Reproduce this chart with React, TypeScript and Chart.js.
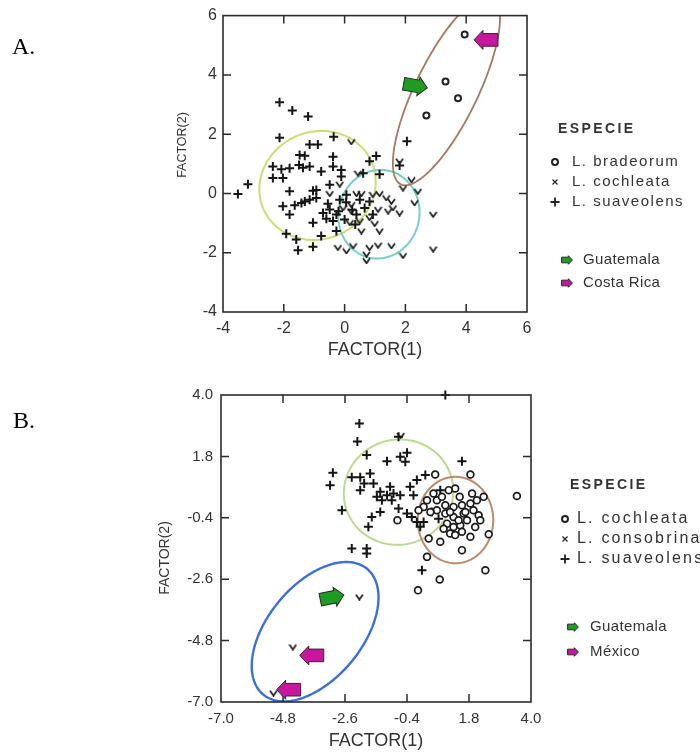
import React, { useEffect, useRef } from "react";
import { Chart, registerables } from "chart.js";
Chart.register(...registerables);

type Pt = [number, number];

// ---------- axis ticks ----------
const A_TICKS = [-4, -2, 0, 2, 4, 6];
const B_TICKS = [-7.0, -4.8, -2.6, -0.4, 1.8, 4.0];

// ---------- legend texts ----------
const A_SPECIES = ["L. bradeorum", "L. cochleata", "L. suaveolens"];
const A_ORIGINS = ["Guatemala", "Costa Rica"];
const B_SPECIES = ["L. cochleata", "L. consobrina", "L. suaveolens"];
const B_ORIGINS = ["Guatemala", "México"];
const LEGEND_TITLE = "ESPECIE";
const X_TITLE = "FACTOR(1)";
const Y_TITLE = "FACTOR(2)";

// ---------- panel A data ----------
const A_BRADEORUM: Pt[] = [[3.95, 5.36], [3.32, 3.78], [3.73, 3.21], [2.69, 2.63]];
const A_COCHLEATA: Pt[] = [
  [0.22, 1.74], [1.81, 1.09], [0.44, 0.68], [-0.16, 0.31], [0.39, -0.01], [0.55, -0.01], [0.93, -0.04],
  [1.15, -0.01], [1.92, 0.18], [2.2, 0.46], [2.41, 0.07], [2.3, -0.32], [1.37, -0.15], [1.54, -0.27],
  [1.59, -0.49], [1.81, -0.66], [1.43, -0.6], [1.1, -0.54], [0.82, -0.82], [0.99, -1.02], [1.15, -1.27],
  [0.5, -0.93], [0.17, -0.99], [0.55, -1.27], [2.91, -0.71], [2.91, -1.88], [1.92, -2.1], [1.54, -1.77],
  [1.1, -1.75], [0.82, -1.83], [0.72, -2.05], [0.72, -2.27], [0.28, -1.77], [0.06, -1.94], [-0.22, -1.83],
  [-0.49, -0.01], [0.22, -0.38], [0.22, -0.6], [-0.05, -0.49],
];
const A_SUAVEOLENS: Pt[] = [
  [-2.14, 3.08], [-1.72, 2.8], [-1.2, 2.6], [-2.14, 1.88], [-0.36, 1.91], [-1.15, 1.65], [-0.88, 1.65],
  [-1.48, 1.3], [-1.31, 1.27], [-0.38, 1.24], [1.04, 1.26], [2.05, 1.76], [1.81, 0.94], [-1.5, 0.96],
  [-1.37, 0.87], [-1.15, 0.91], [-2.36, 0.91], [-2.08, 0.82], [-1.81, 0.85], [-0.77, 0.74], [-0.38, 0.91],
  [-0.11, 0.79], [0.61, 0.68], [0.82, 1.09], [1.15, 0.65], [-2.36, 0.52], [-2.03, 0.52], [-0.11, 0.57],
  [-0.49, 0.29], [-3.51, -0.02], [-3.18, 0.31], [-1.81, 0.07], [-1.04, 0.09], [-0.93, 0.12], [-1.31, -0.27],
  [-1.15, -0.21], [-0.93, -0.15], [-2.03, -0.43], [-1.64, -0.4], [-1.81, -0.71], [-1.42, -0.32], [-0.16, -0.21],
  [0.06, -0.04], [-0.71, -0.66], [-0.49, -0.54], [-0.27, -0.71], [-0.38, -0.93], [-1.04, -0.99], [0.0, -0.88],
  [0.39, -0.71], [0.66, -0.49], [0.93, -0.71], [-1.92, -1.36], [-0.77, -1.44], [-0.27, -1.27], [-1.59, -1.55],
  [-1.04, -1.8], [-1.53, -1.92], [0.82, -0.27], [0.5, -0.21], [-0.55, -0.35], [-0.2, -0.6], [0.25, -0.55],
  [-0.6, -0.85], [0.35, -1.05], [0.05, -0.3],
];
// confidence ellipses: centre, semi-axes, rotation (deg)
const A_ELLIPSES = [
  { cx: -0.89, cy: 0.27, a: 1.95, b: 1.8, angle: 30 },
  { cx: 1.13, cy: -0.7, a: 1.5, b: 1.33, angle: 80 },
  { cx: 3.35, cy: 3.47, a: 3.5, b: 1.03, angle: 64.7 },
];
const A_GUATEMALA_ARROWS: Pt[] = [[2.33, 3.63]];
const A_COSTA_RICA_ARROWS: Pt[] = [[4.65, 5.18]];

// ---------- panel B data ----------
const B_COCHLEATA: Pt[] = [
  [0.6, 1.15], [1.85, 1.15], [1.31, 0.65], [1.47, 0.35], [1.91, 0.47], [2.32, 0.35], [3.5, 0.38], [0.31, 0.23],
  [0.66, 0.23], [0.96, 0.05], [1.25, -0.01], [1.55, 0.05], [1.85, 0.11], [1.96, -0.13], [2.14, -0.31],
  [1.61, -0.25], [1.25, -0.37], [0.96, -0.25], [0.66, -0.13], [0.43, -0.19], [0.19, -0.01], [0.01, -0.13],
  [1.02, -0.61], [1.25, -0.73], [1.49, -0.67], [1.73, -0.49], [2.02, -0.73], [2.2, -0.49], [1.13, -0.96],
  [1.31, -1.02], [1.55, -0.9], [1.85, -1.08], [2.5, -0.99], [0.78, -1.26], [0.37, -1.14], [1.55, -1.56],
  [-0.74, -0.49], [0.31, -1.8], [2.38, -2.28], [0.76, -2.61], [-0.01, -3.0], [0.84, 0.35], [0.54, 0.47],
  [1.67, -0.19], [1.43, -0.49], [1.13, -0.19], [0.9, -0.79], [2.08, 0.23], [1.08, 0.59],
];
const B_CONSOBRINA: Pt[] = [[-2.09, -3.24], [-4.45, -5.03], [-5.14, -6.68], [-0.62, 2.55]];
const B_SUAVEOLENS: Pt[] = [
  [0.96, 4.0], [-2.09, 2.98], [-2.16, 2.33], [-0.7, 2.5], [-1.83, 1.85], [-1.11, 1.63], [-0.64, 1.79],
  [-0.4, 1.93], [-0.46, 1.61], [1.55, 1.63], [-3.03, 1.21], [-3.13, 0.77], [-2.36, 1.05], [-2.06, 1.05],
  [-1.71, 1.19], [-1.92, 0.83], [-1.59, 0.83], [-1.35, 0.53], [-1.47, 0.35], [-1.11, 0.41], [-0.88, 0.47],
  [-0.64, 0.41], [-0.29, 0.71], [-0.05, 0.95], [0.25, 1.13], [-0.17, 0.41], [-0.7, -0.07], [-1.35, -0.19],
  [-1.65, -0.37], [-1.77, -0.72], [-2.71, -0.13], [-0.4, -0.25], [-0.23, -0.37], [0.19, -0.55], [-2.36, -1.5],
  [-1.83, -1.5], [-1.83, -1.68], [0.13, -2.28], [0.78, 0.59], [-1.0, 0.71], [-0.94, 0.23], [-1.29, 0.23],
  [-2.06, 0.59], [-0.05, -0.55], [0.07, -0.72], [0.48, -0.19], [0.72, -0.43],
];
const B_ELLIPSES = [
  { cx: -0.7, cy: 0.52, a: 1.95, b: 1.88, angle: 20 },
  { cx: 1.32, cy: -0.48, a: 1.55, b: 1.34, angle: 90 },
  { cx: -3.66, cy: -4.48, a: 2.91, b: 1.68, angle: 51 },
];
const B_GUATEMALA_ARROWS: Pt[] = [[-3.06, -3.25]];
const B_MEXICO_ARROWS: Pt[] = [[-3.78, -5.33], [-4.6, -6.56]];

// ---------- styles ----------
const SANS = "'Liberation Sans', Arial, sans-serif";
const SERIF = "'Liberation Serif', 'Times New Roman', serif";
const TEXT = "#333";
const GREEN = "#1f9a22";
const MAGENTA = "#c8169e";

function toXY(p: Pt[]) {
  return p.map(([x, y]) => ({ x, y }));
}

function makeV(): HTMLCanvasElement {
  const c = document.createElement("canvas");
  c.width = 9;
  c.height = 7;
  const g = c.getContext("2d")!;
  g.strokeStyle = "#1a1a1a";
  g.lineWidth = 1.7;
  g.beginPath();
  g.moveTo(1, 1);
  g.lineTo(4.5, 6);
  g.lineTo(8, 1);
  g.stroke();
  return c;
}

function drawArrow(ctx: CanvasRenderingContext2D, cx: number, cy: number, dir: number, rot: number, fill: string, s = 1) {
  ctx.save();
  ctx.translate(cx, cy);
  ctx.rotate(rot);
  if (dir < 0) ctx.scale(-1, 1);
  ctx.scale(s, s);
  ctx.beginPath();
  ctx.moveTo(-12, -6.3);
  ctx.lineTo(3, -6.3);
  ctx.lineTo(3, -9.5);
  ctx.lineTo(12, 0);
  ctx.lineTo(3, 9.5);
  ctx.lineTo(3, 6.3);
  ctx.lineTo(-12, 6.3);
  ctx.closePath();
  ctx.fillStyle = fill;
  ctx.fill();
  ctx.lineWidth = 1 / s;
  ctx.strokeStyle = "#2a2a2a";
  ctx.stroke();
  ctx.restore();
}

function drawSymbol(ctx: CanvasRenderingContext2D, kind: string, x: number, y: number) {
  ctx.save();
  ctx.strokeStyle = "#222";
  ctx.beginPath();
  if (kind === "circle") {
    ctx.lineWidth = 2;
    ctx.arc(x, y, 3, 0, Math.PI * 2);
  } else if (kind === "x") {
    ctx.lineWidth = 1.2;
    ctx.moveTo(x - 2.5, y - 2.5);
    ctx.lineTo(x + 2.5, y + 2.5);
    ctx.moveTo(x + 2.5, y - 2.5);
    ctx.lineTo(x - 2.5, y + 2.5);
  } else {
    ctx.lineWidth = 1.8;
    ctx.moveTo(x - 4.5, y);
    ctx.lineTo(x + 4.5, y);
    ctx.moveTo(x, y - 4.5);
    ctx.lineTo(x, y + 4.5);
  }
  ctx.stroke();
  ctx.restore();
}

interface Overlay {
  ticks: number[];
  ellipses: { cx: number; cy: number; a: number; b: number; angle: number }[];
  ellipseColors: string[];
  ellipseWidths: number[];
  arrows: { pts: Pt[]; dir: number; rot: number; color: string }[];
  panel: string;
  panelPos: [number, number];
  yTitle: { x: number; y: number; size: number };
  legend: {
    titlePos: [number, number];
    species: string[];
    symbols: string[];
    symX: number;
    textX: number;
    rowsY: number[];
    font: number;
    spacing: number;
    origins: string[];
    originColors: string[];
    iconX: number;
    originTextX: number;
    originRowsY: number[];
  };
}

function makeOverlay(o: Overlay) {
  return {
    id: "overlay",
    beforeDatasetsDraw(chart: any) {
      const { ctx, chartArea: ca } = chart;
      const xs = chart.scales.x;
      const ys = chart.scales.y;
      ctx.save();
      ctx.beginPath();
      ctx.rect(ca.left, ca.top, ca.right - ca.left, ca.bottom - ca.top);
      ctx.clip();
      o.ellipses.forEach((e, i) => {
        const th = (e.angle * Math.PI) / 180;
        ctx.beginPath();
        for (let k = 0; k <= 180; k++) {
          const t = (k / 180) * Math.PI * 2;
          const dx = e.a * Math.cos(t);
          const dy = e.b * Math.sin(t);
          const px = xs.getPixelForValue(e.cx + dx * Math.cos(th) - dy * Math.sin(th));
          const py = ys.getPixelForValue(e.cy + dx * Math.sin(th) + dy * Math.cos(th));
          if (k === 0) ctx.moveTo(px, py);
          else ctx.lineTo(px, py);
        }
        ctx.closePath();
        ctx.strokeStyle = o.ellipseColors[i];
        ctx.lineWidth = o.ellipseWidths[i];
        ctx.stroke();
      });
      ctx.restore();
    },
    afterDatasetsDraw(chart: any) {
      const { ctx, chartArea: ca } = chart;
      const xs = chart.scales.x;
      const ys = chart.scales.y;
      // frame
      ctx.save();
      ctx.strokeStyle = "#2b2b2b";
      ctx.lineWidth = 1.6;
      ctx.strokeRect(ca.left, ca.top, ca.right - ca.left, ca.bottom - ca.top);
      // inward ticks on all four sides
      ctx.lineWidth = 1.5;
      const L = 8;
      o.ticks.slice(1, -1).forEach((v) => {
        const px = xs.getPixelForValue(v);
        const py = ys.getPixelForValue(v);
        ctx.beginPath();
        ctx.moveTo(px, ca.bottom);
        ctx.lineTo(px, ca.bottom - L);
        ctx.moveTo(px, ca.top);
        ctx.lineTo(px, ca.top + L);
        ctx.moveTo(ca.left, py);
        ctx.lineTo(ca.left + L, py);
        ctx.moveTo(ca.right, py);
        ctx.lineTo(ca.right - L, py);
        ctx.stroke();
      });
      ctx.restore();
      // arrows
      o.arrows.forEach((a) => {
        a.pts.forEach(([x, y]) => {
          drawArrow(ctx, xs.getPixelForValue(x), ys.getPixelForValue(y), a.dir, a.rot, a.color);
        });
      });
    },
    afterDraw(chart: any) {
      const ctx: CanvasRenderingContext2D = chart.ctx;
      const lg = o.legend;
      ctx.save();
      // panel label
      ctx.fillStyle = "#000";
      ctx.font = `24px ${SERIF}`;
      ctx.textBaseline = "alphabetic";
      ctx.textAlign = "left";
      ctx.fillText(o.panel, o.panelPos[0], o.panelPos[1]);
      // y axis title (rotated)
      ctx.save();
      ctx.fillStyle = TEXT;
      ctx.font = `${o.yTitle.size}px ${SANS}`;
      ctx.textAlign = "center";
      ctx.textBaseline = "middle";
      ctx.translate(o.yTitle.x, o.yTitle.y);
      ctx.rotate(-Math.PI / 2);
      ctx.fillText(Y_TITLE, 0, 0);
      ctx.restore();
      // legend
      ctx.fillStyle = TEXT;
      ctx.textBaseline = "middle";
      ctx.textAlign = "left";
      (ctx as any).letterSpacing = "2.4px";
      ctx.font = `bold 14px ${SANS}`;
      ctx.fillText(LEGEND_TITLE, lg.titlePos[0], lg.titlePos[1]);
      (ctx as any).letterSpacing = `${lg.spacing}px`;
      ctx.font = `${lg.font}px ${SANS}`;
      lg.species.forEach((s, i) => {
        drawSymbol(ctx, lg.symbols[i], lg.symX, lg.rowsY[i]);
        ctx.fillText(s, lg.textX, lg.rowsY[i]);
      });
      (ctx as any).letterSpacing = "0.4px";
      ctx.font = `15px ${SANS}`;
      lg.origins.forEach((s, i) => {
        drawArrow(ctx, lg.iconX, lg.originRowsY[i], 1, 0, lg.originColors[i], 0.45);
        ctx.fillText(s, lg.originTextX, lg.originRowsY[i]);
      });
      ctx.restore();
    },
  };
}

function scaleOpts(
  min: number,
  max: number,
  ticks: number[],
  fmt: (v: number) => string,
  axis: "x" | "y",
  size: number,
  tickFont: number,
  tickPad: number,
  titleFont: number
) {
  return {
    type: "linear",
    position: axis === "x" ? "bottom" : "left",
    min,
    max,
    afterBuildTicks: (s: any) => {
      s.ticks = ticks.map((v) => ({ value: v }));
    },
    afterFit: (s: any) => {
      if (axis === "x") s.height = size;
      else s.width = size;
    },
    grid: { display: false, drawTicks: false, tickLength: 0 },
    border: { display: false },
    ticks: {
      autoSkip: false,
      maxRotation: 0,
      padding: tickPad,
      color: TEXT,
      font: { family: SANS, size: tickFont },
      callback: (v: any) => fmt(Number(v)),
    },
    title: {
      display: axis === "x",
      text: X_TITLE,
      color: TEXT,
      padding: 0,
      font: { family: SANS, size: titleFont },
    },
  };
}

function configA(vImg: HTMLCanvasElement): any {
  return {
    type: "scatter",
    data: {
      datasets: [
        { label: A_SPECIES[0], data: toXY(A_BRADEORUM), pointStyle: "circle", radius: 3, borderWidth: 2, borderColor: "#222", backgroundColor: "#fff", clip: false },
        { label: A_SPECIES[1], data: toXY(A_COCHLEATA), pointStyle: vImg, radius: 4, clip: false },
        { label: A_SPECIES[2], data: toXY(A_SUAVEOLENS), pointStyle: "cross", radius: 4.5, borderWidth: 2, borderColor: "#151515", clip: false },
      ],
    },
    options: {
      animation: false,
      responsive: false,
      events: [],
      layout: { padding: { left: 176, right: 173, top: 13, bottom: 9 } },
      plugins: { legend: { display: false }, tooltip: { enabled: false } },
      scales: {
        x: scaleOpts(-4, 6, A_TICKS, (v) => String(v), "x", 49, 16, 7, 18),
        y: scaleOpts(-4, 6, A_TICKS, (v) => String(v), "y", 47, 16, 6, 12.5),
      },
    },
    plugins: [
      makeOverlay({
        ticks: A_TICKS,
        ellipses: A_ELLIPSES,
        ellipseColors: ["#cddc74", "#74cfc6", "#a8775e"],
        ellipseWidths: [2, 2, 1.8],
        arrows: [
          { pts: A_GUATEMALA_ARROWS, dir: 1, rot: 0.17, color: GREEN },
          { pts: A_COSTA_RICA_ARROWS, dir: -1, rot: 0, color: MAGENTA },
        ],
        panel: "A.",
        panelPos: [12, 54],
        yTitle: { x: 183, y: 145, size: 12.5 },
        legend: {
          titlePos: [558, 129],
          species: A_SPECIES,
          symbols: ["circle", "x", "plus"],
          symX: 555,
          textX: 572,
          rowsY: [162, 182, 202],
          font: 15,
          spacing: 1.5,
          origins: A_ORIGINS,
          originColors: [GREEN, MAGENTA],
          iconX: 567,
          originTextX: 583,
          originRowsY: [260, 283],
        },
      }),
    ],
  };
}

function configB(vImg: HTMLCanvasElement): any {
  return {
    type: "scatter",
    data: {
      datasets: [
        { label: B_SPECIES[0], data: toXY(B_COCHLEATA), pointStyle: "circle", radius: 3.4, borderWidth: 1.7, borderColor: "#1a1a1a", backgroundColor: "#fff", clip: false },
        { label: B_SPECIES[1], data: toXY(B_CONSOBRINA), pointStyle: vImg, radius: 4, clip: false },
        { label: B_SPECIES[2], data: toXY(B_SUAVEOLENS), pointStyle: "cross", radius: 4.5, borderWidth: 2, borderColor: "#151515", clip: false },
      ],
    },
    options: {
      animation: false,
      responsive: false,
      events: [],
      layout: { padding: { left: 157, right: 169, top: 25, bottom: 0 } },
      plugins: { legend: { display: false }, tooltip: { enabled: false } },
      scales: {
        x: scaleOpts(-7, 4, B_TICKS, (v) => v.toFixed(1), "x", 50, 15, 8, 18),
        y: scaleOpts(-7, 4, B_TICKS, (v) => v.toFixed(1), "y", 64, 15, 8, 14),
      },
    },
    plugins: [
      makeOverlay({
        ticks: B_TICKS,
        ellipses: B_ELLIPSES,
        ellipseColors: ["#b9da90", "#b98a6c", "#3d6fdb"],
        ellipseWidths: [2, 2, 2.4],
        arrows: [
          { pts: B_GUATEMALA_ARROWS, dir: 1, rot: -0.2, color: GREEN },
          { pts: B_MEXICO_ARROWS, dir: -1, rot: 0, color: MAGENTA },
        ],
        panel: "B.",
        panelPos: [13, 57.7],
        yTitle: { x: 165, y: 188, size: 14 },
        legend: {
          titlePos: [570, 115],
          species: B_SPECIES,
          symbols: ["circle", "x", "plus"],
          symX: 565,
          textX: 577,
          rowsY: [149, 169, 189],
          font: 16,
          spacing: 2.2,
          origins: B_ORIGINS,
          originColors: [GREEN, MAGENTA],
          iconX: 573,
          originTextX: 590,
          originRowsY: [257, 282],
        },
      }),
    ],
  };
}

export default function App() {
  const refA = useRef<HTMLCanvasElement>(null);
  const refB = useRef<HTMLCanvasElement>(null);
  useEffect(() => {
    const vImg = makeV();
    const ca = new Chart(refA.current!, configA(vImg));
    const cb = new Chart(refB.current!, configB(vImg));
    return () => {
      ca.destroy();
      cb.destroy();
    };
  }, []);
  return (
    <div style={{ position: "absolute", left: 0, top: 0, width: 700, height: 752, background: "#fff", overflow: "hidden" }}>
      <canvas ref={refA} width={700} height={370} style={{ position: "absolute", left: 0, top: 0, width: 700, height: 370 }} />
      <canvas ref={refB} width={700} height={382} style={{ position: "absolute", left: 0, top: 370, width: 700, height: 382 }} />
    </div>
  );
}
